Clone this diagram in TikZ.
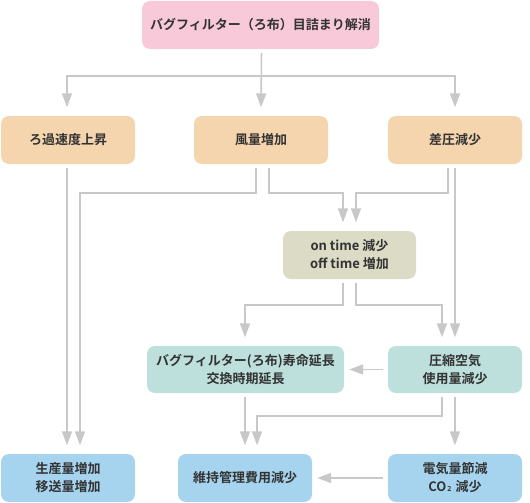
\documentclass[tikz,border=0pt]{standalone}
\usepackage{fontspec}
\setmainfont{Noto Sans CJK JP}[BoldFont={Noto Sans CJK JP Bold}]
\usetikzlibrary{arrows.meta}
\definecolor{cpink}{HTML}{F7C9D9}
\definecolor{corange}{HTML}{F5D5AE}
\definecolor{colive}{HTML}{DCDBC6}
\definecolor{cteal}{HTML}{BDE0DD}
\definecolor{cblue}{HTML}{A6D4EF}
\definecolor{cline}{HTML}{C8C8C8}
\definecolor{ctext}{HTML}{333333}
\tikzset{
  box/.style={rectangle, rounded corners=8pt, draw=none, align=center,
    minimum height=48pt, inner sep=0pt, text=ctext,
    font=\fontsize{13}{18}\selectfont\bfseries},
  arr/.style={draw=cline, line width=1.6pt,
    -{Triangle[width=10pt,length=14pt]}, shorten <=4pt, shorten >=8.5pt},
  harr/.style={draw=cline, line width=1.6pt,
    -{Triangle[width=10pt,length=14pt]}, shorten <=4.5pt, shorten >=5pt},
  plain/.style={draw=cline, line width=1.6pt, shorten <=4pt}
}
\begin{document}
\begin{tikzpicture}[x=1pt,y=-1pt]
\useasboundingbox (0,0) rectangle (530,503);
\node[box, fill=cpink, minimum width=237pt] (top) at (260.5,25) {バグフィルター（ろ布）目詰まり解消};
\node[box, fill=corange, minimum width=134pt] (n1) at (68,140) {ろ過速度上昇};
\node[box, fill=corange, minimum width=134pt] (n2) at (261,140) {風量増加};
\node[box, fill=corange, minimum width=134pt] (n3) at (455,140) {差圧減少};
\node[box, fill=colive, minimum width=133pt] (ot) at (349.5,255) {on time 減少\\off time 増加};
\node[box, fill=cteal, minimum width=197pt, minimum height=47pt] (bag) at (245.5,369.5) {バグフィルター(ろ布)寿命延長\\交換時期延長};
\node[box, fill=cteal, minimum width=134pt, minimum height=47pt] (comp) at (455,369.5) {圧縮空気\\使用量減少};
\node[box, fill=cblue, minimum width=134pt] (prod) at (68,478) {生産量増加\\移送量増加};
\node[box, fill=cblue, minimum width=134pt] (maint) at (245,478) {維持管理費用減少};
\node[box, fill=cblue, minimum width=134pt] (elec) at (455,478) {電気量節減\\CO{\fontsize{7}{7}\selectfont\,2\,} 減少};
% top to row 2
\draw[arr] ([xshift=1pt]top.south) -- ++(0,27) -| ([xshift=-1pt]n1.north);
\draw[arr] ([xshift=1pt]top.south) -- (n2.north);
\draw[arr] ([xshift=1pt]top.south) -- ++(0,27) -| (n3.north);
% row 2 downward
\draw[arr] ([xshift=-1pt]n1.south) -- ([xshift=-1pt]prod.north);
\draw[arr] ([xshift=-5pt]n2.south) -- ++(0,29) -| ([xshift=12pt]prod.north);
\draw[arr] ([xshift=8pt]n2.south) -- ++(0,29) -| ([xshift=-6.5pt]ot.north);
\draw[arr] ([xshift=-7pt]n3.south) -- ++(0,29) -| ([xshift=6.5pt]ot.north);
\draw[arr] (n3.south) -- (comp.north);
% on time
\draw[arr] ([xshift=-6.5pt]ot.south) -- ++(0,26) -| ([xshift=-0.5pt]bag.north);
\draw[arr] ([xshift=6.5pt]ot.south) -- ++(0,26) -| ([xshift=-13pt]comp.north);
% row 3
\draw[harr] (comp.west) -- (bag.east);
\draw[arr] ([xshift=-0.5pt]bag.south) -- (maint.north);
\draw[arr] ([xshift=-13pt]comp.south) -- ++(0,23) -| ([xshift=12pt]maint.north);
\draw[arr] (comp.south) -- (elec.north);
% row 4
\draw[harr] (elec.west) -- (maint.east);
\end{tikzpicture}
\end{document}
